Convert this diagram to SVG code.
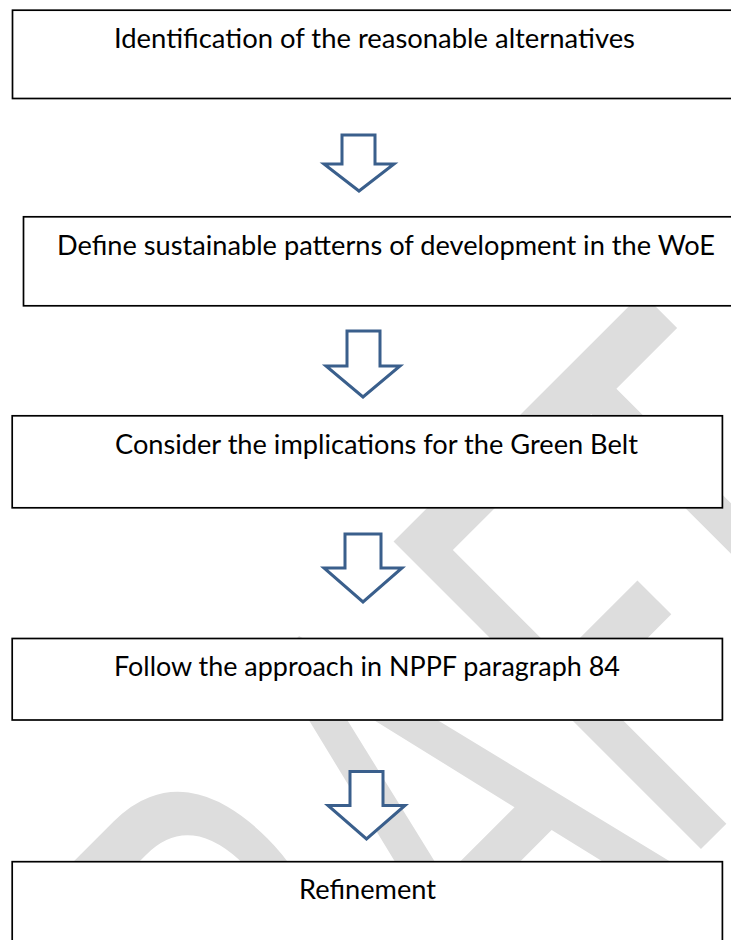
<svg xmlns="http://www.w3.org/2000/svg" width="731" height="940" viewBox="0 0 731 940">
<style>
.box{fill:#ffffff;stroke:#000000;stroke-width:1.7}
.lbl{font-family:Lato,"Liberation Sans",sans-serif;font-size:26px;fill:#000000}
.arr{fill:#ffffff;stroke:#3A5F8C;stroke-width:3;stroke-linejoin:miter}
.wm{font-family:Lato,"Liberation Sans",sans-serif;font-size:88.2px;fill:#dddddd}
</style>
<rect x="0" y="0" width="731" height="940" fill="#ffffff"/>
<g id="watermark" transform="translate(677,873) rotate(-45) scale(4.2,6.88)">
<text class="wm" x="-173.7" y="0">D</text>
<text class="wm" x="-112.2" y="0">R</text>
<text class="wm" x="-57.9" y="0">A</text>
<text class="wm" x="0" y="0">F</text>
<text class="wm" x="41" y="0">T</text>
</g>
<g id="connectors">
<polygon class="arr" points="342,135 375,135 375,164 394,164 359,191 324,164 342,164"/>
<polygon class="arr" points="347,331 380,331 380,366 400,366 363,397 326,366 347,366"/>
<polygon class="arr" points="345,534 381,534 381,568 402,568 363,602 324,568 345,568"/>
<polygon class="arr" points="350,771.5 383,771.5 383,805.5 405,805.5 366.5,839 328,805.5 350,805.5"/>
</g>
<g id="node1">
<rect class="box" x="12.5" y="10.2" width="740" height="88.3"/>
<text class="lbl" x="114" y="48" textLength="521" lengthAdjust="spacingAndGlyphs">Identification of the reasonable alternatives</text>
</g>
<g id="node2">
<rect class="box" x="23.5" y="216.8" width="740" height="89"/>
<text class="lbl" x="57" y="255" textLength="658" lengthAdjust="spacingAndGlyphs">Define sustainable patterns of development in the WoE</text>
</g>
<g id="node3">
<rect class="box" x="12.2" y="415.8" width="710.2" height="92"/>
<text class="lbl" x="115" y="454" textLength="523" lengthAdjust="spacingAndGlyphs">Consider the implications for the Green Belt</text>
</g>
<g id="node4">
<rect class="box" x="12.2" y="638.5" width="710.2" height="81.5"/>
<text class="lbl" x="114" y="676" textLength="506" lengthAdjust="spacingAndGlyphs">Follow the approach in NPPF paragraph 84</text>
</g>
<g id="node5">
<rect class="box" x="12.2" y="861.7" width="710.2" height="100"/>
<text class="lbl" x="299" y="899" textLength="137" lengthAdjust="spacingAndGlyphs">Refinement</text>
</g>
</svg>
